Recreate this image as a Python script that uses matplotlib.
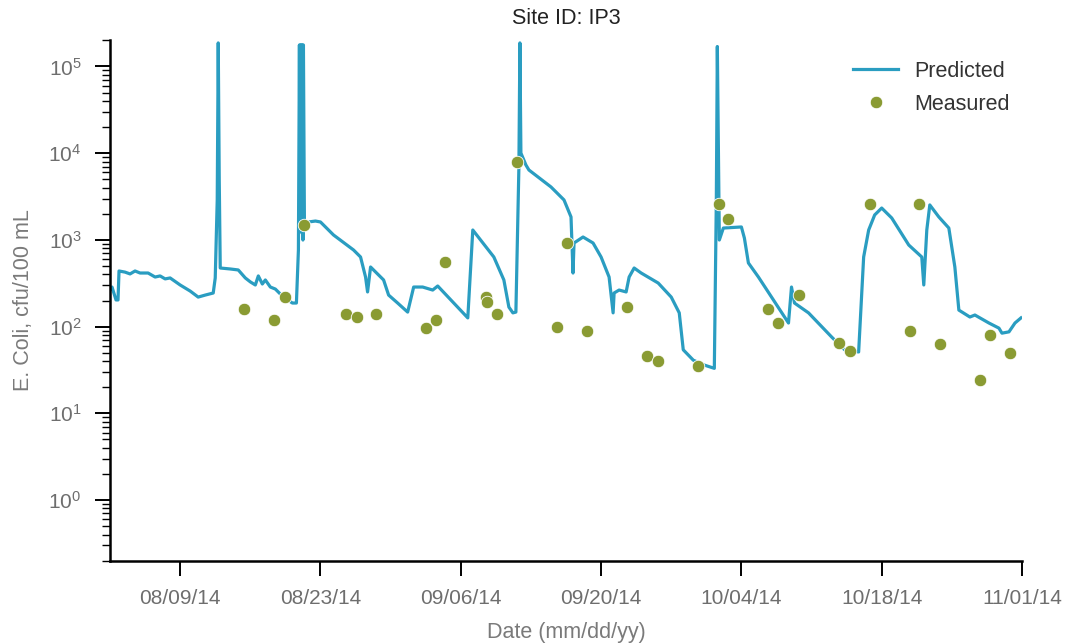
import numpy as np
import pandas as pd
import matplotlib
matplotlib.use("Agg")
import matplotlib.pyplot as plt
import matplotlib.dates as mdates
from matplotlib.ticker import LogLocator, NullFormatter

# ---------------- data ----------------
start_date = "2014-08-02"
end_date = "2014-11-01"
tick_dates = ["2014-08-09", "2014-08-23", "2014-09-06", "2014-09-20",
              "2014-10-04", "2014-10-18", "2014-11-01"]

# predicted series: days since start_date, E. coli (cfu/100 mL)
pred_days = [0.0, 0.2, 0.6, 0.8, 0.9, 1.5, 2.0, 2.5, 3.0, 3.8, 4.5, 5.0, 5.5, 6.0,
             7.0, 8.0, 8.8, 9.5, 10.3, 10.5, 10.7, 10.8, 10.9, 11.0, 12.0, 12.8,
             13.5, 14.0, 14.5, 14.8, 15.2, 15.5, 16.0, 16.5, 17.3, 18.2, 18.6,
             18.8, 18.9, 18.95, 19.0, 19.05, 19.1, 19.15, 19.2, 19.25, 19.3, 19.4,
             19.8, 20.5, 21.0, 22.3,
             24.3, 25.0, 25.5, 25.7, 26.0, 27.3, 27.8, 28.7, 29.7, 30.3, 31.2,
             32.2, 32.7, 35.7, 36.2, 38.3, 39.3, 39.8, 40.2, 40.5, 40.8, 40.9,
             41.0, 41.5, 41.8, 44.0, 45.3, 46.0, 46.2, 46.3, 47.2, 48.2, 49.0,
             49.8, 50.2, 50.3, 50.8, 51.5, 51.8, 52.3, 53.0, 54.7, 56.0, 56.8,
             57.2, 58.2, 59.3, 60.3, 60.5, 60.6, 60.7, 60.8, 61.2, 63.0, 63.3,
             63.7, 64.7, 66.2, 67.7, 68.0, 68.3, 69.7, 72.0, 73.3, 74.7, 75.2,
             75.7, 76.3, 77.0, 78.0, 79.7, 81.0, 81.2, 81.5, 81.8, 82.7, 83.7,
             84.3, 84.7, 85.8, 86.3, 87.7, 88.7, 89.0, 89.7, 90.3, 90.9]
pred_values = [264, 286, 203, 203, 438, 425, 405, 438, 415, 415, 373, 384, 355, 364,
               302, 257, 219, 231, 244, 364, 2890, 187000, 4900, 474, 462, 450,
               364, 328, 302, 384, 310, 345, 286, 271, 219, 187, 187,
               765, 177000, 3000, 177000, 15400, 177000, 1200, 177000, 997, 177000, 1490,
               1610, 1650, 1610, 1140,
               765, 635, 373, 251, 487, 345, 231, 187, 147, 286, 286,
               264, 294, 126, 1300, 635, 345, 168, 144, 147, 6930, 187000,
               10050, 7310, 6400, 4080, 2890, 1840, 415, 921, 1080, 921, 635,
               373, 144, 244, 264, 251, 373, 474, 415, 318, 219, 144,
               54, 41, 36, 33, 2890, 170000, 14200, 997, 1370, 1410, 1050,
               542, 373, 203, 110, 286, 187, 144, 76, 54, 51, 635,
               1300, 1940, 2330, 1790, 873, 635, 302, 1300, 2530, 1840, 1370,
               487, 155, 129, 136, 110, 96, 84, 87, 110, 126]

# measured samples: days since start_date, E. coli (cfu/100 mL)
meas_days = [13.4, 16.4, 17.5, 19.4, 23.5, 24.6, 26.5, 31.5, 32.5, 33.4, 37.5, 37.6,
             38.6, 40.6, 44.6, 45.6, 47.6, 51.6, 53.6, 54.7, 58.7, 60.8, 61.7,
             65.7, 66.7, 68.7, 72.7, 73.8, 75.8, 79.8, 80.7, 82.8, 86.8, 87.8, 89.8]
meas_values = [160, 119, 219, 1485, 140, 129, 140, 96, 119, 556, 219, 192,
               140, 7900, 99, 921, 89, 168, 46, 40, 35, 2594, 1742,
               160, 110, 231, 65, 52, 2594, 89, 2594, 63, 24, 80, 50]

# ---------------- plot ----------------
plt.rcParams['font.family'] = ['Liberation Sans', 'DejaVu Sans']
plt.rcParams['mathtext.fontset'] = 'custom'
plt.rcParams['mathtext.rm'] = 'Liberation Sans'
plt.rcParams['mathtext.it'] = 'Liberation Sans:italic'

line_color = "#2a9dc1"
dot_color = "#8a9b33"
tick_color = "#6e6e6e"

t0 = pd.Timestamp(start_date)
pred_t = t0 + pd.to_timedelta(pred_days, unit="D")
meas_t = t0 + pd.to_timedelta(meas_days, unit="D")

fig = plt.figure(figsize=(10.66, 6.44), dpi=100)
ax = fig.add_axes([110 / 1066, (644 - 560.6) / 644, 912 / 1066, 520.2 / 644])

ax.plot(pred_t, pred_values, color=line_color, lw=2.3, label="Predicted", zorder=2)
ax.plot(meas_t, meas_values, linestyle="none", marker="o", markersize=9,
        color=dot_color, markeredgecolor="white", markeredgewidth=0.6,
        label="Measured", zorder=3)

ax.set_yscale("log")
ax.set_ylim(0.2, 2e5)
ax.set_xlim(pd.Timestamp(start_date), pd.Timestamp(end_date))
ax.set_xticks(pd.to_datetime(tick_dates))
ax.xaxis.set_major_formatter(mdates.DateFormatter("%m/%d/%y"))
ax.yaxis.set_minor_locator(LogLocator(base=10, subs=np.arange(2, 10), numticks=15))
ax.yaxis.set_minor_formatter(NullFormatter())
ax.set_yticks([1, 10, 100, 1000, 1e4, 1e5])

for s in ["top", "right"]:
    ax.spines[s].set_visible(False)
for s in ["left", "bottom"]:
    ax.spines[s].set_linewidth(1.8)
    ax.spines[s].set_color("black")

ax.tick_params(axis="both", which="major", direction="out", length=10.5, width=1.4,
               pad=10, labelsize=15, labelcolor=tick_color, color="black")
ax.tick_params(axis="y", which="minor", direction="out", length=5.5, width=1.0,
               color="black")
ax.tick_params(axis="x", which="minor", length=0)

ax.set_xlabel("Date (mm/dd/yy)", fontsize=15.5, color="#7a7a7a", labelpad=10)
ax.set_ylabel("E. Coli, cfu/100 mL", fontsize=15.5, color="#7a7a7a", labelpad=10)
ax.set_title("Site ID: IP3", fontsize=15.5, color="#222222", pad=12)

ax.legend(loc="upper left", bbox_to_anchor=(853 / 1066, (644 - 61) / 644),
          bbox_transform=fig.transFigure, frameon=False, fontsize=15.5,
          handlelength=2.1, handletextpad=0.75, labelspacing=0.55,
          borderpad=0, borderaxespad=0, numpoints=1, labelcolor="#333333")

fig.savefig("out.png", dpi=100)
